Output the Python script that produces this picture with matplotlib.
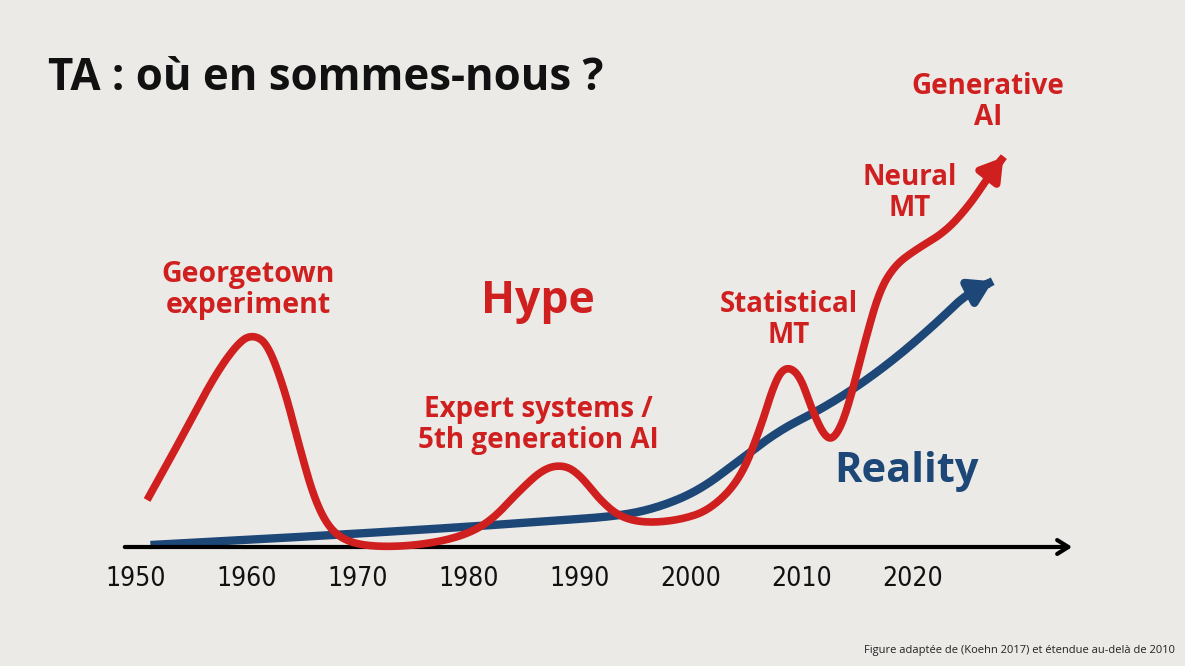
import matplotlib
matplotlib.use("Agg")
import matplotlib.pyplot as plt
import numpy as np

hype_years = [1951.0,1954.0,1957.1,1959.4,1960.7,1961.9,1963.4,1964.8,1966.1,1967.5,1969.3,1972.0,1975.6,1979.2,1981.9,1984.6,1986.8,1988.6,1990.0,1991.8,1993.6,1995.9,1999.0,2001.7,2004.4,2006.2,2007.6,2008.6,2009.8,2010.9,2012.1,2013.0,2014.1,2015.7,2017.0,2018.4,2020.2,2022.9,2025.1,2026.9,2028.3]
hype_level = [47,107,172,207,212,202,157,97,47,17,4,0,2,10,25,57,79,82,72,47,30,24,27,37,67,117,167,181,172,137,109,109,137,207,257,282,297,315,342,372,392]
real_years = [1951.3,1964.8,1978.3,1987.3,1993.6,1997.2,2000.8,2004.4,2008.0,2011.6,2015.2,2018.8,2022.4,2024.7,2027.4]
real_level = [2,10,19,26,31,40,57,87,117,137,162,192,227,252,267]
tick_years = [1950,1960,1970,1980,1990,2000,2010,2020]

def chaikin(x, y, n=4):
    p = np.column_stack([x, y]).astype(float)
    for _ in range(n):
        q = 0.75*p[:-1] + 0.25*p[1:]
        r = 0.25*p[:-1] + 0.75*p[1:]
        new = np.empty((2*len(q), 2)); new[0::2] = q; new[1::2] = r
        p = np.vstack([p[:1], new, p[-1:]])
    return p[:, 0], p[:, 1]

RED = "#d01f1f"; BLUE = "#1d4777"; BG = "#ebeae7"
W, H = 1185, 666
fig = plt.figure(figsize=(W/100, H/100), dpi=100, facecolor=BG)
ax = fig.add_axes([0, 0, 1, 1], facecolor=BG)
ax.set_xlim(1950 - 136/11.1, 1950 + (W-136)/11.1)
ax.set_ylim(-(H-547), 547)
ax.axis("off")

ax.annotate("", xy=(1950+(1075-136)/11.1, 0), xytext=(1950+(122-136)/11.1, 0),
            arrowprops=dict(arrowstyle="->,head_length=0.8,head_width=0.5", lw=3, color="black"))
for y in tick_years:
    ax.text(y, -32, str(y), ha="center", va="center", fontsize=19,
            family=["DejaVu Sans"], color="#111", fontstretch="condensed")

bx, by = chaikin(real_years, real_level)
ax.plot(bx[:-6], by[:-6], color=BLUE, lw=6, solid_capstyle="butt", zorder=2)
ax.annotate("", xy=(real_years[-1], real_level[-1]), xytext=(bx[-14], by[-14]),
            arrowprops=dict(arrowstyle="-|>,head_length=1.3,head_width=0.8", lw=6, color=BLUE), zorder=2)
rx, ry = chaikin(hype_years, hype_level)
ax.plot(rx[:-6], ry[:-6], color=RED, lw=5.5, solid_capstyle="butt", zorder=3)
ax.annotate("", xy=(hype_years[-1], hype_level[-1]), xytext=(rx[-14], ry[-14]),
            arrowprops=dict(arrowstyle="-|>,head_length=1.3,head_width=0.8", lw=5.5, color=RED), zorder=3)

F = ["Open Sans", "DejaVu Sans"]
def t(x, y, s, size, color, **kw):
    fig.text(x/W, 1-y/H, s, fontsize=size, color=color, family=F, fontweight="bold",
             ha=kw.get("ha", "center"), va="center", linespacing=1.1)
t(48, 78, "TA : où en sommes-nous ?", 31.5, "#111", ha="left")
t(248, 290, "Georgetown\nexperiment", 20.5, RED)
t(538, 302, "Hype", 32, RED)
t(538, 425, "Expert systems /\n5th generation AI", 20, RED)
t(789, 320, "Statistical\nMT", 20, RED)
t(910, 193, "Neural\nMT", 20, RED)
t(988, 102, "Generative\nAI", 20, RED)
t(906, 472, "Reality", 30, BLUE)
fig.text(1175/W, 1-650/H, "Figure adaptée de (Koehn 2017) et étendue au-delà de 2010",
         fontsize=8, ha="right", va="center", color="#222", family=F)
fig.savefig("out.png", dpi=100, facecolor=BG)
